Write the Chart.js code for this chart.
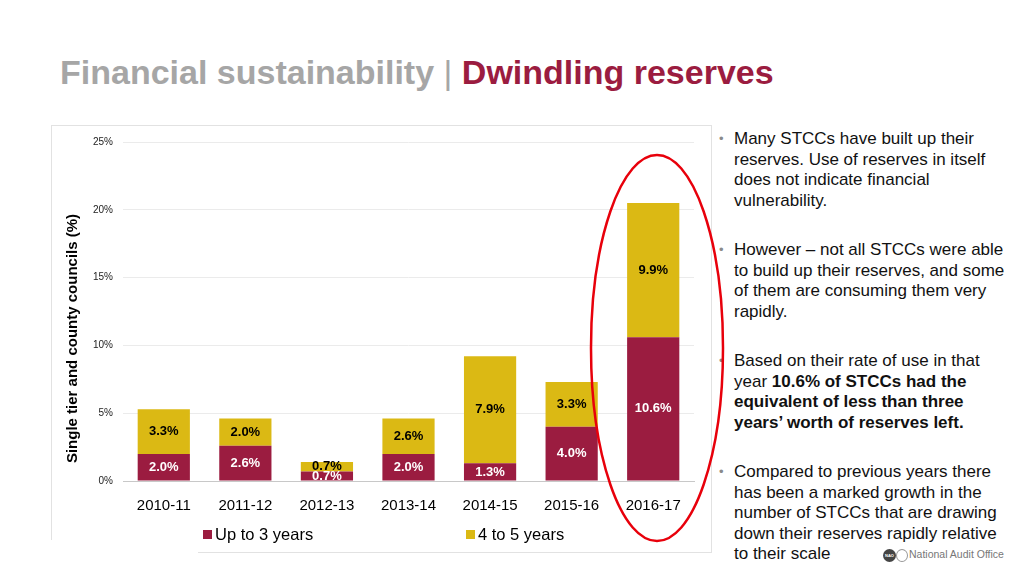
<!DOCTYPE html>
<html lang="en">
<head>
  <meta charset="UTF-8">
  <title>Financial sustainability | Dwindling reserves</title>
  <style>
    body {
      margin: 0;
      width: 1024px;
      height: 576px;
      background: #fff;
      font-family: "Liberation Sans", Arial, sans-serif;
      position: relative;
      overflow: hidden;
    }
    .title {
      position: absolute;
      left: 60px;
      top: 52px;
      font-size: 34px;
      font-weight: bold;
      line-height: 40px;
      white-space: nowrap;
      color: #a6a6a6;
    }
    .title .sep { font-weight: normal; color: #a6a6a6; }
    .title .hl { color: #9b1c40; }
    .frame-top { position: absolute; left: 51px; top: 125px; width: 660px; height: 427px;
      border-top: 1px solid #e2e2e2; border-right: 1px solid #e2e2e2; }
    .frame-left { position: absolute; left: 51px; top: 125px; width: 1px; height: 415px; background: #e2e2e2; }
    .frame-bottom { position: absolute; left: 198px; top: 552px; width: 513px; height: 1px; background: #e2e2e2; }
    .chart-box {
      position: absolute;
      left: 52px;
      top: 126px;
      width: 658px;
      height: 426px;
    }
    .legend {
      position: absolute;
      top: 524px;
      font-size: 16.5px;
      line-height: 20px;
      color: #000;
      white-space: nowrap;
    }
    .legend i {
      display: inline-block;
      width: 9px;
      height: 9px;
      margin-right: 3px;
      vertical-align: 1px;
    }
    .notes {
      position: absolute;
      left: 734px;
      top: 129px;
      width: 290px;
      font-size: 17px;
      line-height: 20.6px;
      color: #111;
      white-space: nowrap;
    }
    .notes p { margin: 0 0 28.6px 0; position: relative; }
    .notes p::before {
      content: "\2022";
      position: absolute;
      left: -15px;
      top: 0;
      color: #8a8a8a;
      font-size: 13px;
    }
    .nao {
      position: absolute;
      left: 883px;
      top: 548px;
      font-size: 10.5px;
      color: #777;
      white-space: nowrap;
    }
    .nao b {
      display: inline-block;
      width: 13px; height: 13px; border-radius: 50%;
      background: #444; color: #fff; font-size: 4px; line-height: 13px; text-align: center;
      vertical-align: middle;
    }
    .nao u {
      display: inline-block;
      width: 10px; height: 11px; border-radius: 50%;
      border: 1px solid #999; vertical-align: middle; margin-right: 1px;
    }
    svg.ring { position: absolute; left: 0; top: 0; pointer-events: none; }
  </style>
</head>
<body>
  <div class="title">Financial sustainability <span class="sep">|</span> <span class="hl">Dwindling reserves</span></div>

  <div class="frame-top"></div>
  <div class="frame-left"></div>
  <div class="frame-bottom"></div>

  <div class="chart-box">
    <canvas id="reservesChart" width="658" height="426"></canvas>
  </div>

  <div class="legend" style="left:203px"><i style="background:#9b1c40"></i>Up to 3 years</div>
  <div class="legend" style="left:466px"><i style="background:#dbb914"></i>4 to 5 years</div>

  <div class="notes">
    <p>Many STCCs have built up their<br>reserves. Use of reserves in itself<br>does not indicate financial<br>vulnerability.</p>
    <p>However – not all STCCs were able<br>to build up their reserves, and some<br>of them are consuming them very<br>rapidly.</p>
    <p>Based on their rate of use in that<br>year <b>10.6% of STCCs had the<br>equivalent of less than three<br>years’ worth of reserves left.</b></p>
    <p>Compared to previous years there<br>has been a marked growth in the<br>number of STCCs that are drawing<br>down their reserves rapidly relative<br>to their scale</p>
  </div>

  <div class="nao"><b>NAO</b><u></u>National Audit Office</div>

  <svg class="ring" width="1024" height="576">
    <ellipse cx="657" cy="348" rx="66" ry="193" fill="none" stroke="#e8000b" stroke-width="2.5"/>
  </svg>

  <script src="https://cdn.jsdelivr.net/npm/chart.js@4.4.0/dist/chart.umd.min.js"></script>
  <script>
    const years = ['2010-11', '2011-12', '2012-13', '2013-14', '2014-15', '2015-16', '2016-17'];
    const upTo3 = [2.0, 2.6, 0.7, 2.0, 1.3, 4.0, 10.6];
    const fourTo5 = [3.3, 2.0, 0.7, 2.6, 7.9, 3.3, 9.9];
    const yTicks = [0, 5, 10, 15, 20, 25];

    const maroon = '#9b1c40';
    const gold = '#dbb914';

    // values written in the middle of each segment
    const segmentLabels = {
      id: 'segmentLabels',
      afterDatasetsDraw(chart) {
        const c = chart.ctx;
        c.save();
        c.font = 'bold 13px "Liberation Sans", Arial, sans-serif';
        c.textAlign = 'center';
        c.textBaseline = 'middle';
        chart.data.datasets.forEach((ds, di) => {
          c.fillStyle = di === 0 ? '#ffffff' : '#000000';
          chart.getDatasetMeta(di).data.forEach((bar, i) => {
            const v = ds.data[i];
            c.fillText(v.toFixed(1) + '%', bar.x, (bar.y + bar.base) / 2);
          });
        });
        c.restore();
      }
    };

    // y axis title, sits a bit below the middle of the plot like the original
    const yTitle = {
      id: 'yTitle',
      afterDraw(chart) {
        const a = chart.chartArea;
        const c = chart.ctx;
        c.save();
        c.translate(a.left - 50, (a.top + a.bottom) / 2 + 27);
        c.rotate(-Math.PI / 2);
        c.font = 'bold 15px "Liberation Sans", Arial, sans-serif';
        c.fillStyle = '#000';
        c.textAlign = 'center';
        c.textBaseline = 'middle';
        c.fillText('Single tier and county councils (%)', 0, 0);
        c.restore();
      }
    };

    new Chart(document.getElementById('reservesChart'), {
      type: 'bar',
      data: {
        labels: years,
        datasets: [
          { label: 'Up to 3 years', data: upTo3, backgroundColor: maroon },
          { label: '4 to 5 years', data: fourTo5, backgroundColor: gold }
        ]
      },
      options: {
        responsive: false,
        animation: false,
        devicePixelRatio: 1,
        layout: { padding: { left: 8, right: 16, top: 16, bottom: 0 } },
        datasets: { bar: { barPercentage: 0.64, categoryPercentage: 1 } },
        scales: {
          x: {
            stacked: true,
            grid: { display: false },
            border: { display: true, color: '#c8c8c8' },
            ticks: {
              color: '#000',
              padding: 8,
              font: { size: 15, family: '"Liberation Sans", Arial, sans-serif' }
            },
            afterFit(scale) { scale.height = 71; }
          },
          y: {
            stacked: true,
            min: 0,
            max: 25,
            afterBuildTicks(scale) { scale.ticks = yTicks.map(v => ({ value: v })); },
            grid: { color: '#ebebeb', drawTicks: false },
            border: { display: false },
            ticks: {
              color: '#222',
              padding: 10,
              font: { size: 10, family: '"Liberation Sans", Arial, sans-serif' },
              callback: v => v + '%'
            },
            afterFit(scale) { scale.width = 63; }
          }
        },
        plugins: {
          legend: { display: false },
          tooltip: { enabled: false }
        }
      },
      plugins: [segmentLabels, yTitle]
    });
  </script>
</body>
</html>
